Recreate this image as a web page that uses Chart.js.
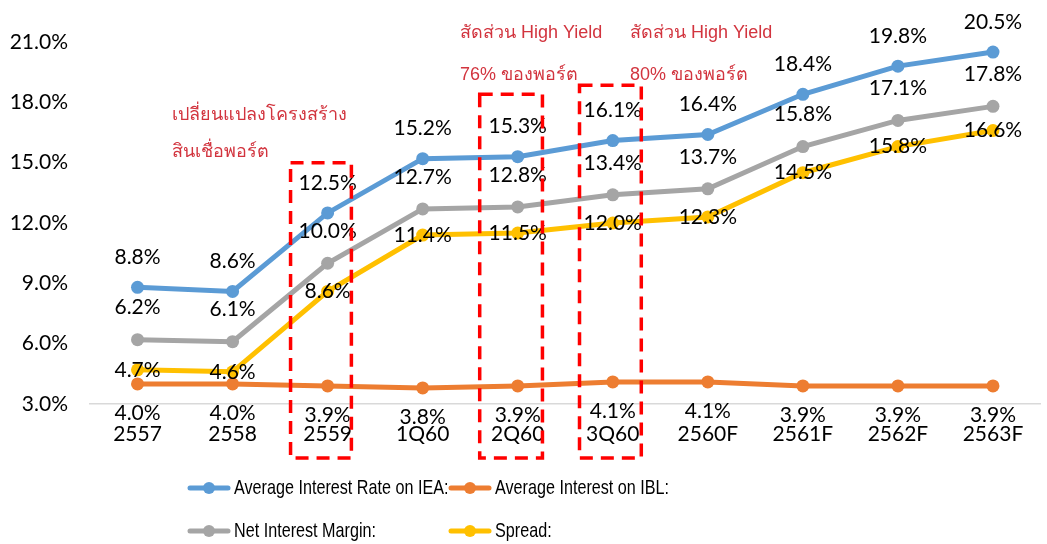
<!DOCTYPE html>
<html>
<head>
<meta charset="utf-8">
<script src="https://cdn.jsdelivr.net/npm/chart.js@4.4.1/dist/chart.umd.min.js"></script>
<style>
  body { margin: 0; background: #fff; }
  #wrap { width: 1047px; height: 544px; position: relative; }
</style>
</head>
<body>
<div id="wrap"><canvas id="nimChart"></canvas></div>
<script>
// Chart data
const categories = ["2557", "2558", "2559", "1Q60", "2Q60", "3Q60", "2560F", "2561F", "2562F", "2563F"];
const ieaRate = [8.8, 8.6, 12.5, 15.2, 15.3, 16.1, 16.4, 18.4, 19.8, 20.5];
const iblRate = [4.0, 4.0, 3.9, 3.8, 3.9, 4.1, 4.1, 3.9, 3.9, 3.9];
const nimRate = [6.2, 6.1, 10.0, 12.7, 12.8, 13.4, 13.7, 15.8, 17.1, 17.8];
const spreadRate = [4.7, 4.6, 8.6, 11.4, 11.5, 12.0, 12.3, 14.5, 15.8, 16.6];
const yTicks = [3, 6, 9, 12, 15, 18, 21];

// Dashed boxes: left / right edge (in category units) and top value (%)
const boxLeft = [1.61, 3.6, 4.65];
const boxRight = [2.25, 4.26, 5.3];
const boxTops = [15.0, 18.4, 18.85];

const numFont = "Lato, 'Open Sans', sans-serif";
const legendFont = "'Liberation Sans', sans-serif";
const noteColor = "#D2343E";

// Plugin: value labels next to the points
const valueLabels = {
  id: "valueLabels",
  afterDatasetsDraw(chart) {
    const ctx = chart.ctx;
    // offset for each series (above / below / centered)
    const offsets = [-30, 29, -32, 0];
    ctx.save();
    ctx.font = "21px " + numFont;
    ctx.fillStyle = "#000";
    ctx.textAlign = "center";
    ctx.textBaseline = "middle";
    chart.data.datasets.forEach((ds, i) => {
      const meta = chart.getDatasetMeta(i);
      meta.data.forEach((pt, j) => {
        ctx.fillText(ds.data[j].toFixed(1) + "%", pt.x, pt.y + offsets[i]);
      });
    });
    ctx.restore();
  },
};

// Plugin: red dashed boxes and notes
const notes = {
  id: "notes",
  afterDraw(chart) {
    const ctx = chart.ctx;
    const x = chart.scales.x;
    const y = chart.scales.y;
    ctx.save();
    ctx.strokeStyle = "#FF0000";
    ctx.lineWidth = 3.5;
    ctx.setLineDash([13, 8]);
    for (let i = 0; i < boxTops.length; i++) {
      const left = x.getPixelForValue(boxLeft[i]);
      const right = x.getPixelForValue(boxRight[i]);
      const top = y.getPixelForValue(boxTops[i]);
      ctx.strokeRect(left, top, right - left, 458 - top);
    }
    ctx.setLineDash([]);

    ctx.fillStyle = noteColor;
    ctx.textAlign = "left";
    ctx.textBaseline = "middle";
    ctx.font = "18px " + legendFont;
    ctx.fillText("เปลี่ยนแปลงโครงสร้าง", 172, 115);
    ctx.fillText("สินเชื่อพอร์ต", 172, 152);
    ctx.fillText("สัดส่วน High Yield", 460, 33);
    ctx.fillText("76% ของพอร์ต", 460, 75);
    ctx.fillText("สัดส่วน High Yield", 630, 33);
    ctx.fillText("80% ของพอร์ต", 630, 75);
    ctx.restore();
  },
};

// Plugin: legend in two rows
const gridLegend = {
  id: "gridLegend",
  afterDraw(chart) {
    const ctx = chart.ctx;
    const spots = [
      [190, 488],
      [451, 488],
      [190, 531],
      [451, 531],
    ];
    ctx.save();
    ctx.font = "21px " + legendFont;
    ctx.textBaseline = "middle";
    ctx.textAlign = "left";
    chart.data.datasets.forEach((ds, i) => {
      const [lx, ly] = spots[i];
      ctx.strokeStyle = ds.borderColor;
      ctx.lineWidth = 5;
      ctx.lineCap = "round";
      ctx.beginPath();
      ctx.moveTo(lx, ly);
      ctx.lineTo(lx + 38, ly);
      ctx.stroke();
      ctx.fillStyle = ds.borderColor;
      ctx.beginPath();
      ctx.arc(lx + 19, ly, 6, 0, Math.PI * 2);
      ctx.fill();
      // narrow text, squeeze it horizontally
      ctx.save();
      ctx.translate(lx + 44, ly);
      ctx.scale(0.77, 1);
      ctx.fillStyle = "#000";
      ctx.fillText(ds.label, 0, 0);
      ctx.restore();
    });
    ctx.restore();
  },
};

function makeSeries(label, data, color) {
  return {
    label: label,
    data: data,
    borderColor: color,
    backgroundColor: color,
    borderWidth: 5,
    pointRadius: 6.5,
    pointHoverRadius: 6.5,
    pointBorderWidth: 0,
    tension: 0,
  };
}

const ctx = document.getElementById("nimChart").getContext("2d");
new Chart(ctx, {
  type: "line",
  data: {
    labels: categories,
    datasets: [
      makeSeries("Average Interest Rate on IEA:", ieaRate, "#5B9BD5"),
      makeSeries("Average Interest on IBL:", iblRate, "#ED7D31"),
      makeSeries("Net Interest Margin:", nimRate, "#A5A5A5"),
      makeSeries("Spread:", spreadRate, "#FFC000"),
    ],
  },
  options: {
    responsive: true,
    maintainAspectRatio: false,
    animation: false,
    layout: { padding: { top: 42, right: 0, left: 0, bottom: 0 } },
    plugins: {
      legend: { display: false },
      tooltip: { enabled: false },
    },
    scales: {
      x: {
        offset: true,
        grid: { display: false, drawTicks: false },
        border: { display: true, color: "#D9D9D9", width: 1.5 },
        ticks: {
          color: "#000",
          font: { family: numFont, size: 21 },
          padding: 18,
          maxRotation: 0,
          autoSkip: false,
        },
        afterFit(scale) {
          scale.height = 140;
        },
      },
      y: {
        min: 3,
        max: 21,
        afterBuildTicks(scale) {
          scale.ticks = yTicks.map((v) => ({ value: v }));
        },
        grid: { display: false, drawTicks: false },
        border: { display: false },
        ticks: {
          color: "#000",
          font: { family: numFont, size: 21 },
          padding: 22,
          callback: (v) => v.toFixed(1) + "%",
        },
        afterFit(scale) {
          scale.width = 90;
        },
      },
    },
  },
  plugins: [valueLabels, notes, gridLegend],
});
</script>
</body>
</html>
